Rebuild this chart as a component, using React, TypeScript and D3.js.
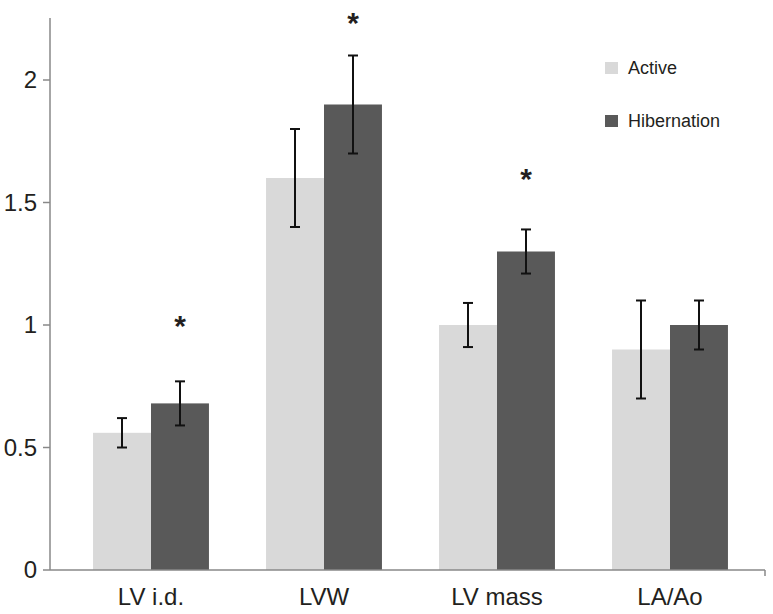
import React from "react";
import * as d3 from "d3";

const categories = ["LV i.d.", "LVW", "LV mass", "LA/Ao"];
const seriesNames = ["Active", "Hibernation"];
const activeValues = [0.56, 1.6, 1.0, 0.9];
const activeErrors = [0.06, 0.2, 0.09, 0.2];
const hibernationValues = [0.68, 1.9, 1.3, 1.0];
const hibernationErrors = [0.09, 0.2, 0.09, 0.1];
const significance = [true, true, true, false];
const starLevels = [1.01, 2.245, 1.61, 0];
const yTicks = [0, 0.5, 1, 1.5, 2];
const yTickLabels = ["0", "0.5", "1", "1.5", "2"];

const W = 773;
const H = 614;
const colors = ["#d9d9d9", "#595959"];
const FONT = "Liberation Sans, Arial, Helvetica, sans-serif";

export default function App() {
  const y = d3.scaleLinear().domain([0, 2]).range([570, 80]);
  const yTop = 18;
  const axisX = 50;
  const xEnd = 765;
  const x = d3.scaleBand<string>().domain(categories).range([64.5, 756.5]).paddingInner(0.33).paddingOuter(0.165);
  const sub = d3.scaleBand<string>().domain(seriesNames).range([0, x.bandwidth()]).padding(0);
  const series = [
    { name: seriesNames[0], values: activeValues, errors: activeErrors },
    { name: seriesNames[1], values: hibernationValues, errors: hibernationErrors },
  ];
  const cap = 5;
  return (
    <svg width={W} height={H} style={{ position: "absolute", left: 0, top: 0, background: "#fff" }} fontFamily={FONT}>
      {series.map((s, si) =>
        categories.map((c, i) => (
          <rect key={s.name + c} x={(x(c) ?? 0) + (sub(s.name) ?? 0)} y={y(s.values[i])} width={sub.bandwidth()} height={y(0) - y(s.values[i])} fill={colors[si]} />
        ))
      )}
      {series.map((s) =>
        categories.map((c, i) => {
          const cx = (x(c) ?? 0) + (sub(s.name) ?? 0) + sub.bandwidth() / 2;
          const y1 = y(s.values[i] + s.errors[i]);
          const y0 = y(s.values[i] - s.errors[i]);
          return (
            <g key={"e" + s.name + c} stroke="#111" strokeWidth={2}>
              <line x1={cx} x2={cx} y1={y1} y2={y0} />
              <line x1={cx - cap} x2={cx + cap} y1={y1} y2={y1} />
              <line x1={cx - cap} x2={cx + cap} y1={y0} y2={y0} />
            </g>
          );
        })
      )}
      {categories.map((c, i) =>
        significance[i] ? (
          <text key={"s" + c} x={(x(c) ?? 0) + (sub(seriesNames[1]) ?? 0) + sub.bandwidth() / 2} y={y(starLevels[i]) + 13} textAnchor="middle" fontSize={30} fontWeight="bold" fill="#231f20">*</text>
        ) : null
      )}
      {/* axes */}
      <line x1={axisX} x2={axisX} y1={yTop} y2={y(0)} stroke="#888" strokeWidth={1.5} />
      <line x1={axisX} x2={xEnd} y1={y(0)} y2={y(0)} stroke="#888" strokeWidth={1.5} />
      <line x1={xEnd} x2={xEnd} y1={y(0)} y2={y(0) + 6} stroke="#888" strokeWidth={1.5} />
      {yTicks.map((t, i) => (
        <g key={"t" + t}>
          <line x1={axisX - 7} x2={axisX} y1={y(t)} y2={y(t)} stroke="#888" strokeWidth={1.5} />
          <text x={37} y={y(t)} dy="0.35em" textAnchor="end" fontSize={24} fill="#231f20">{yTickLabels[i]}</text>
        </g>
      ))}
      {categories.map((c) => (
        <text key={"l" + c} x={(x(c) ?? 0) + x.bandwidth() / 2} y={605} textAnchor="middle" fontSize={24} fill="#231f20">{c}</text>
      ))}
      {seriesNames.map((n, i) => (
        <g key={"lg" + n}>
          <rect x={605} y={62 + i * 53} width={13} height={12} fill={colors[i]} />
          <text x={628} y={74 + i * 53} fontSize={18} fill="#231f20">{n}</text>
        </g>
      ))}
    </svg>
  );
}
